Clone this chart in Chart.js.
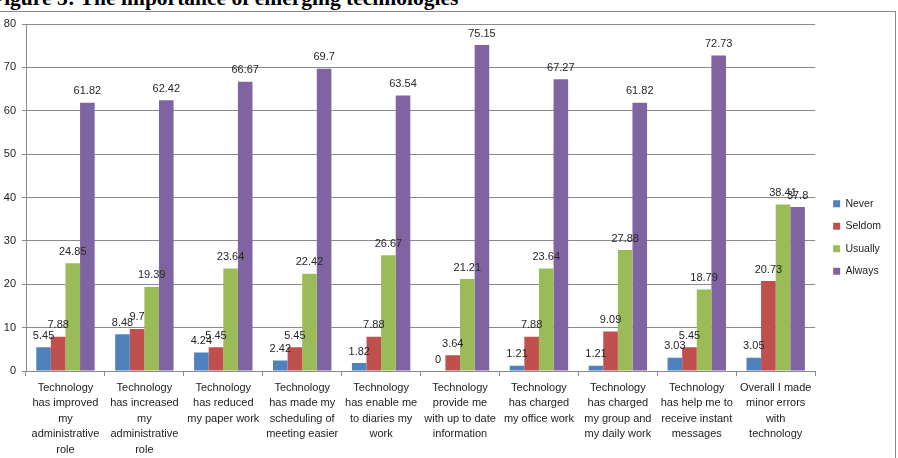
<!DOCTYPE html>
<html>
<head>
<meta charset="utf-8">
<script src="https://cdn.jsdelivr.net/npm/chart.js@4.4.1/dist/chart.umd.min.js"></script>
<style>
  html, body { margin: 0; padding: 0; background: #fff; width: 898px; height: 458px; overflow: hidden; }
  #title { position: absolute; left: -9px; top: -14px; font: bold 21.5px "Liberation Serif", serif; color: #000; white-space: nowrap; }
  #frame { position: absolute; left: -1px; top: 11px; width: 896px; height: 470px; border-top: 1px solid #8a8a8a; border-right: 1px solid #8a8a8a; }
  #wrap { position: absolute; left: 0; top: 11px; width: 894px; height: 452px; }
</style>
</head>
<body>
<div id="title">Figure 3: The importance of emerging technologies</div>
<div id="frame"></div>
<div id="wrap"><canvas id="chart"></canvas></div>
<script>
  // categories (already split into the lines shown under each group)
  var CATEGORIES = [
    ['Technology', 'has improved', 'my', 'administrative', 'role'],
    ['Technology', 'has increased', 'my', 'administrative', 'role'],
    ['Technology', 'has reduced', 'my paper work'],
    ['Technology', 'has made my', 'scheduling of', 'meeting easier'],
    ['Technology', 'has enable me', 'to diaries my', 'work'],
    ['Technology', 'provide me', 'with up to date', 'information'],
    ['Technology', 'has charged', 'my office work'],
    ['Technology', 'has charged', 'my group and', 'my daily work'],
    ['Technology', 'has help me to', 'receive instant', 'messages'],
    ['Overall I made', 'minor errors', 'with', 'technology']
  ];

  var NEVER   = [5.45, 8.48, 4.24, 2.42, 1.82, 0, 1.21, 1.21, 3.03, 3.05];
  var SELDOM  = [7.88, 9.7, 5.45, 5.45, 7.88, 3.64, 7.88, 9.09, 5.45, 20.73];
  var USUALLY = [24.85, 19.39, 23.64, 22.42, 26.67, 21.21, 23.64, 27.88, 18.79, 38.41];
  var ALWAYS  = [61.82, 62.42, 66.67, 69.7, 63.54, 75.15, 67.27, 61.82, 72.73, 37.8];

  var SERIES_NAMES = ['Never', 'Seldom', 'Usually', 'Always'];
  var Y_MIN = 0, Y_MAX = 80, Y_STEP = 10;

  var COLORS = ['#4f81bd', '#c0504d', '#9bbb59', '#8064a2'];
  var FONT = '"Liberation Sans", Arial, sans-serif';
  var NARROW = '"Liberation Sans Narrow", "Arial Narrow", "Liberation Sans", sans-serif';
  var GRID = '#8a8a8a';

  // value labels above each bar
  var barLabels = {
    id: 'barLabels',
    afterDatasetsDraw: function (chart) {
      var ctx = chart.ctx;
      ctx.save();
      ctx.font = '11px ' + FONT;
      ctx.fillStyle = '#262626';
      ctx.textAlign = 'center';
      ctx.textBaseline = 'bottom';
      chart.data.datasets.forEach(function (ds, i) {
        chart.getDatasetMeta(i).data.forEach(function (bar, j) {
          ctx.fillText(String(ds.data[j]), bar.x, bar.y - 6);
        });
      });
      ctx.restore();
    }
  };

  // nudge the legend column a little right of the plot and up
  var legendGap = {
    id: 'legendGap',
    afterLayout: function (chart) {
      var lg = chart.legend;
      if (!lg) return;
      lg.left += 6; lg.right += 6;
      lg.top -= 6; lg.bottom -= 6;
    }
  };

  var seriesData = [NEVER, SELDOM, USUALLY, ALWAYS];

  new Chart(document.getElementById('chart'), {
    type: 'bar',
    data: {
      labels: CATEGORIES,
      datasets: SERIES_NAMES.map(function (name, i) {
        return {
          label: name,
          data: seriesData[i],
          backgroundColor: COLORS[i],
          borderWidth: 0,
          categoryPercentage: 0.74,
          barPercentage: 1
        };
      })
    },
    options: {
      responsive: true,
      maintainAspectRatio: false,
      animation: false,
      layout: { padding: { top: 13, right: 9, left: 0, bottom: 0 } },
      plugins: {
        legend: {
          position: 'right',
          align: 'center',
          labels: {
            boxWidth: 7,
            boxHeight: 7,
            padding: 12,
            color: '#222',
            font: { family: FONT, size: 10.5 }
          }
        },
        tooltip: { enabled: false }
      },
      scales: {
        x: {
          grid: { offset: true, drawOnChartArea: false, tickLength: 5, color: GRID },
          border: { color: GRID },
          ticks: {
            maxRotation: 0, minRotation: 0, autoSkip: false,
            color: '#222', padding: 4,
            font: { family: NARROW, size: 11, lineHeight: 1.41 }
          },
          afterFit: function (s) { s.height = 92; }
        },
        y: {
          min: Y_MIN, max: Y_MAX,
          ticks: { stepSize: Y_STEP, color: '#222', padding: 6, font: { family: FONT, size: 11 } },
          grid: { color: GRID, tickLength: 4 },
          border: { color: GRID },
          afterFit: function (s) { s.width = 26; }
        }
      }
    },
    plugins: [barLabels, legendGap]
  });
</script>
</body>
</html>
